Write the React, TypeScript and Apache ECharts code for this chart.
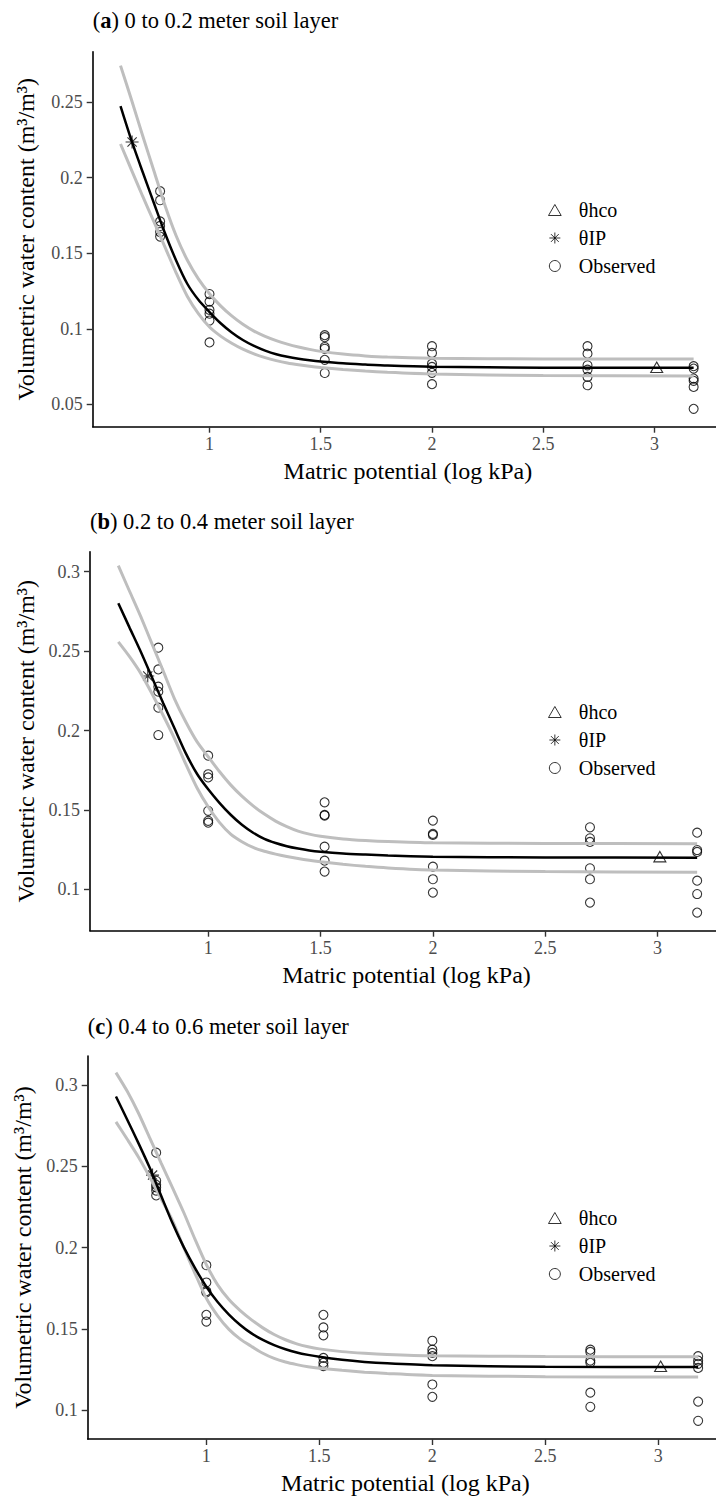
import React, { useEffect, useRef } from "react";
import * as echarts from "echarts";

// ---------------- DATA ----------------
const matricPotential = [0.778, 1, 1.518, 2, 2.699, 3.176];
const xTicks = [1, 1.5, 2, 2.5, 3];
const yTicksA = [0.05, 0.1, 0.15, 0.2, 0.25];
const yTicksBC = [0.1, 0.15, 0.2, 0.25, 0.3];

const panelLetters = ["a", "b", "c"];
const panelTitles = [
  "0 to 0.2 meter soil layer",
  "0.2 to 0.4 meter soil layer",
  "0.4 to 0.6 meter soil layer",
];

// observed values, one row per matric potential
const observedA = [
  [0.191, 0.185, 0.171, 0.168, 0.164, 0.161],
  [0.123, 0.118, 0.1125, 0.11, 0.1055, 0.091],
  [0.0958, 0.0945, 0.088, 0.0868, 0.0795, 0.0708],
  [0.0885, 0.0841, 0.077, 0.0748, 0.0709, 0.0634],
  [0.0885, 0.0836, 0.0759, 0.073, 0.0682, 0.0627],
  [0.0753, 0.0737, 0.0671, 0.0656, 0.0616, 0.0471],
];
const observedB = [
  [0.2522, 0.2385, 0.2276, 0.2245, 0.2144, 0.1972],
  [0.1842, 0.1725, 0.1705, 0.1495, 0.1432, 0.142],
  [0.1548, 0.1469, 0.1465, 0.1269, 0.1181, 0.1112],
  [0.1433, 0.135, 0.1343, 0.1143, 0.1064, 0.098],
  [0.1391, 0.1322, 0.1299, 0.1133, 0.1064, 0.0917],
  [0.1357, 0.1248, 0.1236, 0.1055, 0.0971, 0.0854],
];
const observedC = [
  [0.2583, 0.241, 0.2385, 0.237, 0.235, 0.232],
  [0.1891, 0.1785, 0.1732, 0.1724, 0.1586, 0.1545],
  [0.1586, 0.1509, 0.146, 0.1321, 0.1291, 0.1271],
  [0.1427, 0.1372, 0.1352, 0.1332, 0.1158, 0.1082],
  [0.1372, 0.1358, 0.1305, 0.1291, 0.1108, 0.1021],
  [0.1332, 0.1305, 0.1285, 0.126, 0.1053, 0.0935],
];

// θhco and θIP points [x, y]
const hcoA = [3.01, 0.0746];
const hcoB = [3.01, 0.1206];
const hcoC = [3.01, 0.127];
const ipA = [0.652, 0.2235];
const ipB = [0.731, 0.2343];
const ipC = [0.762, 0.2445];

// fitted curve and band, read at these matric potentials
const curveX = [0.6, 0.65, 0.7, 0.75, 0.8, 0.85, 0.9, 0.95, 1.0, 1.05, 1.1, 1.15, 1.2, 1.25, 1.3, 1.35, 1.4, 1.45, 1.5, 1.6, 1.7, 1.8, 2.0, 2.5, 3.176];

const fittedA = [0.2472, 0.2242, 0.2035, 0.1832, 0.1632, 0.1452, 0.1298, 0.1192, 0.1111, 0.1037, 0.0976, 0.0926, 0.0887, 0.0856, 0.0832, 0.0815, 0.0802, 0.0792, 0.0784, 0.0772, 0.0764, 0.0757, 0.0749, 0.0743, 0.0742];
const upperA = [0.274, 0.2511, 0.2275, 0.2045, 0.1815, 0.1615, 0.1455, 0.133, 0.1232, 0.1152, 0.1085, 0.103, 0.0985, 0.095, 0.0922, 0.0899, 0.088, 0.0864, 0.0851, 0.0833, 0.0821, 0.0813, 0.0806, 0.0801, 0.08];
const lowerA = [0.2222, 0.2048, 0.1875, 0.1708, 0.154, 0.137, 0.1215, 0.11, 0.1012, 0.0952, 0.0905, 0.0866, 0.0835, 0.081, 0.079, 0.0774, 0.0762, 0.0752, 0.0744, 0.0731, 0.0721, 0.0713, 0.0702, 0.0691, 0.0688];

const fittedB = [0.2802, 0.2648, 0.2496, 0.2334, 0.2172, 0.2014, 0.1858, 0.1728, 0.163, 0.1545, 0.147, 0.1407, 0.1357, 0.1318, 0.1292, 0.1272, 0.1257, 0.1245, 0.1237, 0.1226, 0.1219, 0.1213, 0.1206, 0.1201, 0.12];
const upperB = [0.3038, 0.2877, 0.2717, 0.2546, 0.2374, 0.22, 0.2055, 0.193, 0.1835, 0.1742, 0.1658, 0.1587, 0.1526, 0.1474, 0.143, 0.1395, 0.1367, 0.1348, 0.1335, 0.1318, 0.1308, 0.1301, 0.1293, 0.1289, 0.1288];
const lowerB = [0.2558, 0.2465, 0.236, 0.2232, 0.2095, 0.195, 0.179, 0.164, 0.152, 0.1422, 0.1348, 0.13, 0.1264, 0.124, 0.1222, 0.1207, 0.1194, 0.1183, 0.1174, 0.1158, 0.1145, 0.1135, 0.1122, 0.1112, 0.1108];

const fittedC = [0.2928, 0.2785, 0.264, 0.2488, 0.2318, 0.215, 0.2002, 0.1873, 0.1759, 0.1665, 0.1588, 0.1524, 0.1472, 0.1432, 0.14, 0.1375, 0.1355, 0.134, 0.1328, 0.131, 0.1297, 0.1288, 0.1276, 0.1267, 0.1265];
const upperC = [0.3075, 0.296, 0.2825, 0.2672, 0.2519, 0.2368, 0.2215, 0.205, 0.1895, 0.177, 0.168, 0.1612, 0.1555, 0.1506, 0.1465, 0.1433, 0.1408, 0.139, 0.1377, 0.136, 0.135, 0.1343, 0.1335, 0.133, 0.1328];
const lowerC = [0.2772, 0.2665, 0.2555, 0.2432, 0.23, 0.2165, 0.2, 0.184, 0.1688, 0.158, 0.1497, 0.1437, 0.1392, 0.135, 0.1318, 0.1296, 0.128, 0.1267, 0.1258, 0.1245, 0.1234, 0.1226, 0.1214, 0.1206, 0.1204];

const xAxisTitle = "Matric potential (log kPa)";
const yAxisTitle = "Volumetric water content (m³/m³)";
const legendNames = ["θhco", "θIP", "Observed"];

const panels = [
  { observed: observedA, fitted: fittedA, upper: upperA, lower: lowerA, hco: hcoA, ip: ipA, yTicks: yTicksA },
  { observed: observedB, fitted: fittedB, upper: upperB, lower: lowerB, hco: hcoB, ip: ipB, yTicks: yTicksBC },
  { observed: observedC, fitted: fittedC, upper: upperC, lower: lowerC, hco: hcoC, ip: ipC, yTicks: yTicksBC },
];

// ---------------- LAYOUT ----------------
const CHART_W = 730;
const PLOT_RIGHT = 723;
const layouts = [
  { left: 92.7, top: 51.7, height: 375, xMin: 0.475, xMax: 3.308, yMin: 0.0353, yMax: 0.2832, titleTop: 8, legendTop: 200 },
  { left: 90, top: 551.7, height: 379, xMin: 0.474, xMax: 3.291, yMin: 0.074, yMax: 0.3126, titleTop: 509.7, legendTop: 702 },
  { left: 87.7, top: 1056, height: 385.7, xMin: 0.475, xMax: 3.286, yMin: 0.0823, yMax: 0.3177, titleTop: 1014.7, legendTop: 1208 },
];

const FONT = "Liberation Serif";
const ASTERISK = "path://M5,0L5,10M0,5L10,5M1.46,1.46L8.54,8.54M8.54,1.46L1.46,8.54";
const TRIANGLE = "path://M5,0L10,8.66L0,8.66Z";

const zip = (xs: number[], ys: number[]) => xs.map((x, k) => [x, ys[k]]);

export default function App() {
  const ref = useRef<HTMLDivElement>(null);

  useEffect(() => {
    if (!ref.current) return;
    const chart = echarts.init(ref.current, null, { renderer: "svg" });

    const grid: any[] = [];
    const xAxis: any[] = [];
    const yAxis: any[] = [];
    const series: any[] = [];
    const title: any[] = [];
    const legend: any[] = [];

    panels.forEach((p, i) => {
      const L = layouts[i];
      grid.push({ left: L.left, top: L.top, height: L.height, right: CHART_W - PLOT_RIGHT });

      const axisLine = { show: true, onZero: false, lineStyle: { color: "#000", width: 1.6 } };
      const labelStyle = { fontFamily: FONT, fontSize: 18, color: "#4d4d4d" };
      const nameStyle = { fontFamily: FONT, fontSize: 24, color: "#000", lineHeight: 24 };

      xAxis.push({
        type: "value",
        gridIndex: i,
        min: L.xMin,
        max: L.xMax,
        name: xAxisTitle,
        nameLocation: "middle",
        nameGap: 32,
        nameTextStyle: nameStyle,
        axisLine,
        axisTick: { show: true, length: 6, customValues: xTicks, lineStyle: { color: "#333", width: 1.4 } },
        axisLabel: { customValues: xTicks, margin: 8, ...labelStyle, lineHeight: 18 },
        splitLine: { show: false },
      });
      yAxis.push({
        type: "value",
        gridIndex: i,
        min: L.yMin,
        max: L.yMax,
        name: yAxisTitle,
        nameLocation: "middle",
        nameGap: L.left - 38,
        nameTextStyle: nameStyle,
        axisLine,
        axisTick: { show: true, length: 6, customValues: p.yTicks, lineStyle: { color: "#333", width: 1.4 } },
        axisLabel: { customValues: p.yTicks, margin: 10, ...labelStyle },
        splitLine: { show: false },
      });

      title.push({
        text: `({b|${panelLetters[i]}}) ${panelTitles[i]}`,
        left: L.left,
        top: L.titleTop,
        padding: 0,
        textStyle: {
          fontFamily: FONT,
          fontSize: 22.5,
          fontWeight: "normal",
          color: "#000",
          lineHeight: 24,
          rich: { b: { fontFamily: FONT, fontSize: 22.5, fontWeight: "bold", color: "#000", lineHeight: 24 } },
        },
      });

      legend.push({
        orient: "vertical",
        left: 548,
        top: L.legendTop,
        padding: 0,
        itemWidth: 38,
        itemHeight: 11,
        itemGap: 8,
        symbolKeepAspect: true,
        selectedMode: false,
        itemStyle: { borderWidth: 1 },
        textStyle: { fontFamily: FONT, fontSize: 20, color: "#000", lineHeight: 20 },
        data: [
          { name: legendNames[0], icon: TRIANGLE },
          { name: legendNames[1], icon: ASTERISK },
          { name: legendNames[2], icon: "circle" },
        ],
      });

      const lineBase = {
        type: "line",
        xAxisIndex: i,
        yAxisIndex: i,
        showSymbol: false,
        symbol: "none",
        smooth: 0.25,
        silent: true,
      };
      series.push({ ...lineBase, name: "Upper limit", data: zip(curveX, p.upper), lineStyle: { color: "#bebebe", width: 3 } });
      series.push({ ...lineBase, name: "Lower limit", data: zip(curveX, p.lower), lineStyle: { color: "#bebebe", width: 3 } });
      series.push({ ...lineBase, name: "Fitted", data: zip(curveX, p.fitted), lineStyle: { color: "#000", width: 2.5 } });

      const obsData: number[][] = [];
      p.observed.forEach((row, k) => row.forEach((v) => obsData.push([matricPotential[k], v])));
      series.push({
        type: "scatter",
        name: "Observed",
        xAxisIndex: i,
        yAxisIndex: i,
        symbol: "circle",
        symbolSize: 9,
        data: obsData,
        itemStyle: { color: "transparent", borderColor: "#000", borderWidth: 1.1 },
      });
      series.push({
        type: "scatter",
        name: legendNames[0],
        xAxisIndex: i,
        yAxisIndex: i,
        symbol: TRIANGLE,
        symbolSize: [12, 10.4],
        data: [p.hco],
        itemStyle: { color: "transparent", borderColor: "#000", borderWidth: 1.1 },
      });
      series.push({
        type: "scatter",
        name: legendNames[1],
        xAxisIndex: i,
        yAxisIndex: i,
        symbol: ASTERISK,
        symbolSize: 13,
        data: [p.ip],
        itemStyle: { color: "transparent", borderColor: "#000", borderWidth: 1.1 },
      });
    });

    chart.setOption({
      animation: false,
      backgroundColor: "#fff",
      title,
      legend,
      grid,
      xAxis,
      yAxis,
      series,
    });

    return () => chart.dispose();
  }, []);

  return (
    <div style={{ position: "absolute", left: 0, top: 0, width: 716, height: 1496, overflow: "hidden", background: "#fff" }}>
      <div ref={ref} style={{ width: CHART_W, height: 1496 }} />
    </div>
  );
}
